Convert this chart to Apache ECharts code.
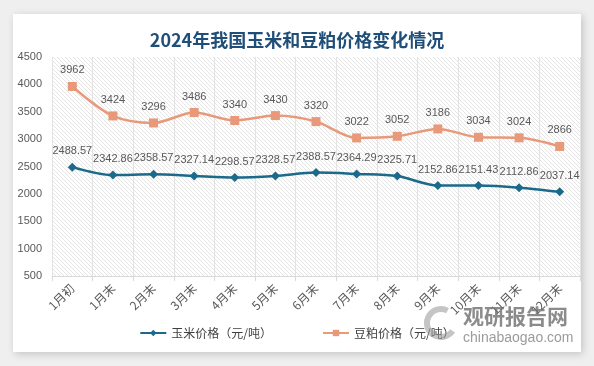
<!DOCTYPE html>
<html><head><meta charset="utf-8">
<script src="https://cdn.jsdelivr.net/npm/echarts@6/dist/echarts.min.js"></script>
<style>html,body{margin:0;padding:0;background:#efefef;}#c{width:594px;height:366px;}</style>
</head><body><div id="c"></div>
<script>
var categories = ['1月初','1月末','2月末','3月末','4月末','5月末','6月末','7月末','8月末','9月末','10月末','11月末','12月末'];
var cornPrice = [2488.57,2342.86,2358.57,2327.14,2298.57,2328.57,2388.57,2364.29,2325.71,2152.86,2151.43,2112.86,2037.14];
var soyPrice = [3962,3424,3296,3486,3340,3430,3320,3022,3052,3186,3034,3024,2866];
var yTicks = {min:500, max:4500, interval:500};

var pc = document.createElement('canvas');
pc.width = 4; pc.height = 4;
var ctx = pc.getContext('2d');
ctx.fillStyle = '#ffffff'; ctx.fillRect(0,0,4,4);
ctx.strokeStyle = '#e2e2e2'; ctx.lineWidth = 0.9;
ctx.beginPath(); ctx.moveTo(0,0); ctx.lineTo(4,4); ctx.moveTo(-2,2); ctx.lineTo(2,6); ctx.moveTo(2,-2); ctx.lineTo(6,2); ctx.stroke();

var chart = echarts.init(document.getElementById('c'), null, {renderer:'canvas'});
var labelStyle = {show:true, position:'top', color:'#595959', fontSize:11, fontFamily:'Liberation Sans, Arial', distance:6};
chart.setOption({
  backgroundColor:'#efefef',
  graphic:[
    {type:'rect', shape:{x:13,y:14,width:568,height:338}, style:{fill:'#ffffff', shadowBlur:8, shadowColor:'rgba(0,0,0,0.18)', shadowOffsetX:2, shadowOffsetY:2}, z:-10},
    {type:'arc', shape:{cx:441, cy:323, r:14, startAngle:0.6, endAngle:5.2}, style:{fill:'none', stroke:'rgba(150,150,150,0.55)', lineWidth:6}, z:100},
    {type:'text', x:463, y:306, style:{text:'观研报告网', fill:'rgba(110,110,110,0.8)', font:'bold 21px "Noto Sans CJK SC"'}, z:100},
    {type:'text', x:463, y:331, style:{text:'chinabaogao.com', fill:'rgba(130,130,130,0.8)', font:'14px "Liberation Sans"'}, z:100}
  ],
  title:{text:'2024年我国玉米和豆粕价格变化情况', left:'center', top:26, textStyle:{color:'#1F4E79', fontSize:18, fontWeight:'bold', fontFamily:'Noto Sans CJK SC'}},
  grid:{left:52, right:14, top:57, bottom:90, show:true, borderWidth:0, backgroundColor:{image:pc, repeat:'repeat'}},
  legend:{bottom:22, left:'center', itemGap:50, itemWidth:26, itemHeight:8, textStyle:{color:'#404040', fontSize:12, fontFamily:'Noto Sans CJK SC'},
    data:['玉米价格（元/吨）','豆粕价格（元/吨）']},
  xAxis:{type:'category', data:categories, boundaryGap:true,
    axisLine:{lineStyle:{color:'#d9d9d9'}}, axisTick:{show:true, lineStyle:{color:'#d9d9d9'}},
    splitLine:{show:true, lineStyle:{color:'#e3e3e3'}},
    axisLabel:{rotate:45, color:'#595959', fontSize:12, fontFamily:'Noto Sans CJK SC', margin:10}},
  yAxis:{type:'value', min:yTicks.min, max:yTicks.max, interval:yTicks.interval,
    axisLine:{show:false}, axisTick:{show:false}, splitLine:{show:false},
    axisLabel:{color:'#595959', fontSize:11, fontFamily:'Liberation Sans, Arial', margin:10, formatter:function(v){return String(v);}}},
  series:[
    {name:'玉米价格（元/吨）', type:'line', data:cornPrice, smooth:0.3, symbol:'diamond', symbolSize:9,
      itemStyle:{color:'#1B6A8C'}, lineStyle:{width:2.5, color:'#1B6A8C'}, label:labelStyle},
    {name:'豆粕价格（元/吨）', type:'line', data:soyPrice, smooth:0.3, symbol:'rect', symbolSize:9,
      itemStyle:{color:'#E8997A'}, lineStyle:{width:2.5, color:'#E8997A'}, label:labelStyle}
  ]
});
</script></body></html>
